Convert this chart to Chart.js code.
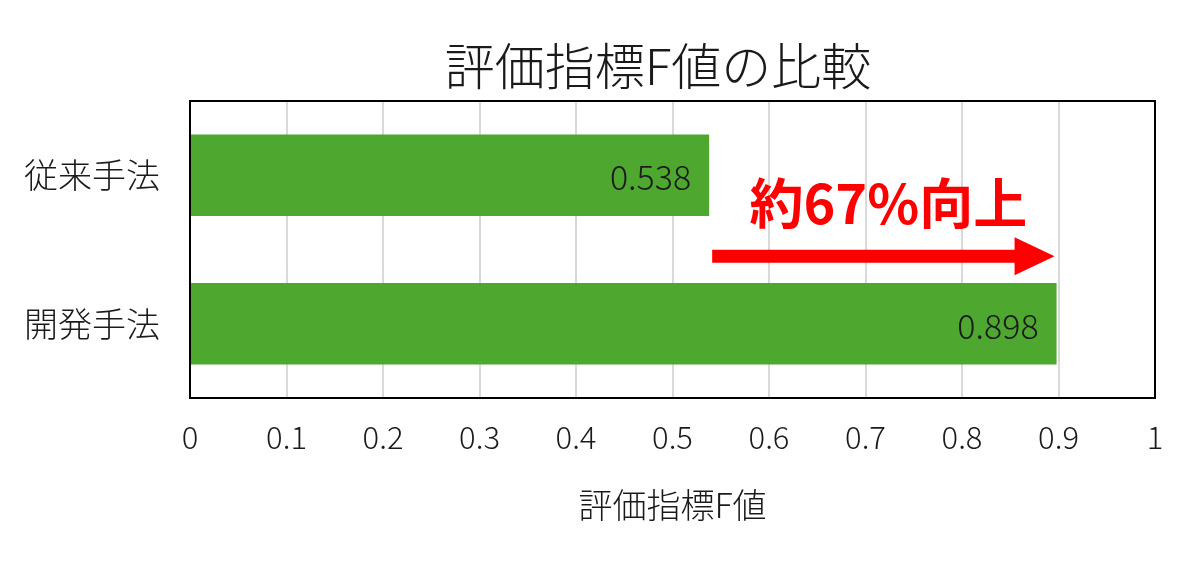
<!DOCTYPE html>
<html><head><meta charset="utf-8">
<script src="https://cdn.jsdelivr.net/npm/chart.js@4"></script>
<style>html,body{margin:0;padding:0;background:#fff}#wrap{width:1200px;height:575px}</style>
</head><body><div id="wrap"><canvas id="c" width="1200" height="575"></canvas></div>
<script>
const categories = ['従来手法', '開発手法'];
const fValues = [0.538, 0.898];
const xTicks = [0, 0.1, 0.2, 0.3, 0.4, 0.5, 0.6, 0.7, 0.8, 0.9, 1];
const chartTitle = '評価指標F値の比較';
const axisTitle = '評価指標F値';
const improvementText = '約67%向上';

const FONT = '"Noto Sans CJK JP", "Noto Sans", sans-serif';

const frame = {
  id: 'frame',
  afterDraw(chart) {
    const {ctx, chartArea: a} = chart;
    ctx.save();
    ctx.strokeStyle = '#000';
    ctx.lineWidth = 2;
    ctx.strokeRect(a.left, a.top, a.right - a.left, a.bottom - a.top);
    ctx.font = '300 50px ' + FONT;
    ctx.fillStyle = '#1a1a1a';
    ctx.textAlign = 'center';
    ctx.textBaseline = 'middle';
    ctx.fillText(chartTitle, 658, a.top - 35);
    ctx.restore();
  }
};

const valueLabels = {
  id: 'valueLabels',
  afterDatasetsDraw(chart) {
    const {ctx} = chart;
    const meta = chart.getDatasetMeta(0);
    ctx.save();
    ctx.font = '300 34px ' + FONT;
    ctx.fillStyle = '#1a1a1a';
    ctx.textAlign = 'right';
    ctx.textBaseline = 'middle';
    meta.data.forEach((bar, i) => {
      ctx.fillText(fValues[i].toFixed(3), bar.x - 18, bar.y + 2);
    });
    ctx.restore();
  }
};

const arrowNote = {
  id: 'arrowNote',
  afterDatasetsDraw(chart) {
    const {ctx, scales} = chart;
    const x0 = scales.x.getPixelForValue(fValues[0]) + 3;
    const x1 = scales.x.getPixelForValue(fValues[1]) - 2;
    const y = scales.y.getPixelForValue(0.545);
    const shaft = 13, headH = 38, headL = 40;
    ctx.save();
    ctx.fillStyle = '#ff0000';
    ctx.beginPath();
    ctx.moveTo(x0, y - shaft / 2);
    ctx.lineTo(x1 - headL, y - shaft / 2);
    ctx.lineTo(x1 - headL, y - headH / 2);
    ctx.lineTo(x1, y);
    ctx.lineTo(x1 - headL, y + headH / 2);
    ctx.lineTo(x1 - headL, y + shaft / 2);
    ctx.lineTo(x0, y + shaft / 2);
    ctx.closePath();
    ctx.fill();
    ctx.font = 'bold 54px ' + FONT;
    ctx.textAlign = 'center';
    ctx.textBaseline = 'middle';
    const ty = scales.y.getPixelForValue(0.19);
    ctx.fillText(improvementText, (x0 + x1) / 2 + 5, ty);
    ctx.restore();
  }
};

new Chart(document.getElementById('c'), {
  type: 'bar',
  data: {
    labels: categories,
    datasets: [{
      data: fValues,
      backgroundColor: '#4ea72e',
      categoryPercentage: 1,
      barPercentage: 0.55
    }]
  },
  options: {
    indexAxis: 'y',
    responsive: false,
    animation: false,
    events: [],
    layout: {padding: {left: 0, right: 45, top: 101, bottom: 0}},
    plugins: {
      legend: {display: false},
      tooltip: {enabled: false},
      title: {display: false}
    },
    scales: {
      x: {
        type: 'linear',
        min: 0, max: 1,
        afterBuildTicks(scale) { scale.ticks = xTicks.map(v => ({value: v})); },
        afterFit(scale) { scale.height = 177; },
        grid: {color: '#d9d9d9', lineWidth: 2, drawTicks: false},
        border: {display: false},
        ticks: {
          color: '#1a1a1a',
          padding: 21,
          font: {family: FONT, size: 31, weight: '300'},
          callback: v => String(v)
        },
        title: {
          display: true,
          text: axisTitle,
          color: '#1a1a1a',
          font: {family: FONT, size: 34, weight: '300'},
          padding: {top: 0, bottom: 50}
        }
      },
      y: {
        afterFit(scale) { scale.width = 190; },
        grid: {display: false, drawTicks: false},
        border: {display: false},
        ticks: {
          color: '#1a1a1a',
          padding: 30,
          font: {family: FONT, size: 34, weight: '300'}
        }
      }
    }
  },
  plugins: [frame, valueLabels, arrowNote]
});
</script>
</body></html>
